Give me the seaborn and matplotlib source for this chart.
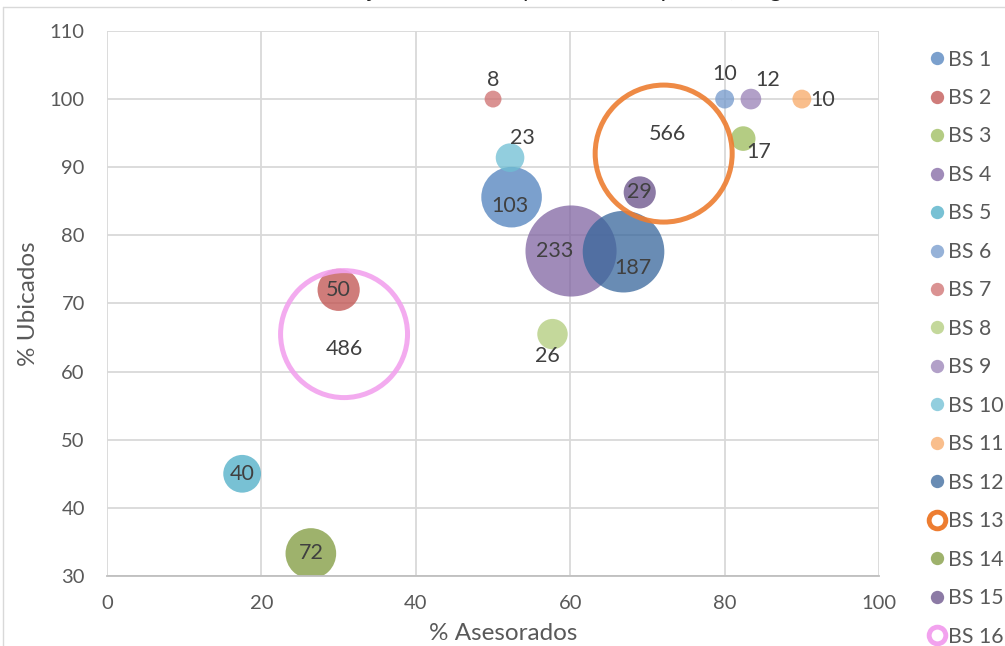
import matplotlib
matplotlib.use("Agg")
import matplotlib.pyplot as plt
from matplotlib.lines import Line2D
import seaborn as sns
import pandas as pd

# Datos
series = ["BS 1", "BS 2", "BS 3", "BS 4", "BS 5", "BS 6", "BS 7", "BS 8",
          "BS 9", "BS 10", "BS 11", "BS 12", "BS 13", "BS 14", "BS 15", "BS 16"]
asesorados = [52.4, 30.0, 82.4, 60.1, 17.5, 80.0, 50.0, 57.7,
              83.4, 52.2, 90.0, 66.9, 72.1, 26.4, 69.0, 30.7]
ubicados = [85.6, 72.0, 94.2, 77.7, 45.0, 100.0, 100.0, 65.5,
            100.0, 91.4, 100.0, 77.6, 92.0, 33.3, 86.3, 65.5]
personas = [103, 50, 17, 233, 40, 10, 8, 26, 12, 23, 10, 187, 566, 72, 29, 486]
anillos = ["BS 13", "BS 16"]

colores = {
    "BS 1": "#4F81BD", "BS 2": "#C0504D", "BS 3": "#9BBB59", "BS 4": "#8064A2",
    "BS 5": "#4BACC6", "BS 6": "#7399CB", "BS 7": "#CE6E6E", "BS 8": "#B0CB7A",
    "BS 9": "#9880B6", "BS 10": "#6EBED3", "BS 11": "#F8A866", "BS 12": "#37669B",
    "BS 13": "#ED7D31", "BS 14": "#7E983B", "BS 15": "#664E87", "BS 16": "#F2A2EE",
}

# desplazamiento de las etiquetas (en puntos)
offsets = {
    "BS 1": (-1, -6), "BS 4": (-12, 0), "BS 6": (0, 18), "BS 7": (0, 14),
    "BS 8": (-4, -16), "BS 9": (12, 14), "BS 10": (9, 14), "BS 11": (15, -1),
    "BS 12": (7, -12), "BS 13": (3, 14), "BS 16": (0, -11), "BS 3": (11, -10),
}

df = pd.DataFrame({"serie": series, "asesorados": asesorados,
                   "ubicados": ubicados, "personas": personas})
llenos = df[~df["serie"].isin(anillos)]
vacios = df[df["serie"].isin(anillos)]

sns.set_style("white")
plt.rcParams["font.family"] = ["Lato", "DejaVu Sans"]

fig = plt.figure(figsize=(10.05, 6.46), dpi=100)
ax = fig.add_axes([0.1065, 0.1084, 0.7682, 0.8437])

smax = max(personas)
sns.scatterplot(data=llenos, x="asesorados", y="ubicados", hue="serie",
                palette=colores, size="personas", size_norm=(0, smax),
                sizes=(0, 10450), alpha=0.75, linewidth=0, legend=False, ax=ax)

sns.scatterplot(data=vacios, x="asesorados", y="ubicados", size="personas",
                size_norm=(0, smax), sizes=(0, 9730), legend=False, ax=ax)
ring = ax.collections[-1]
ring.set_facecolor("none")
ring.set_edgecolor([colores[s] for s in vacios["serie"]])
ring.set_linewidth(3.6)
ring.set_alpha(0.9)

for s, x, y, n in zip(series, asesorados, ubicados, personas):
    dx, dy = offsets.get(s, (0, 0))
    ax.annotate(str(n), (x, y), xytext=(dx, dy), textcoords="offset points",
                ha="center", va="center", fontsize=15.5, color="#404040")

ax.set_xlim(0, 100)
ax.set_ylim(30, 110)
ax.set_xticks(range(0, 101, 20))
ax.set_yticks(range(30, 111, 10))
ax.grid(True, color="#D9D9D9", linewidth=1.3)
ax.set_axisbelow(True)
for side in ["top", "right", "left"]:
    ax.spines[side].set_visible(False)
ax.spines["bottom"].set_color("#BFBFBF")
ax.spines["bottom"].set_linewidth(1.3)
ax.tick_params(length=0, labelsize=14.5, labelcolor="#595959")
ax.tick_params(axis="y", pad=16)
ax.tick_params(axis="x", pad=14)

ax.set_xlabel("% Asesorados", fontsize=17.5, color="#595959", va="center")
ax.set_ylabel("% Ubicados", fontsize=17.5, color="#595959", va="center")
ax.xaxis.set_label_coords(0.513, -0.105)
ax.yaxis.set_label_coords(-0.102, 0.5)

# leyenda
handles = []
for s in series:
    if s in anillos:
        h = Line2D([], [], linestyle="none", marker="o", markersize=12,
                   markerfacecolor="white", markeredgecolor=colores[s],
                   markeredgewidth=3.5)
    else:
        h = Line2D([], [], linestyle="none", marker="o", markersize=9.6,
                   markerfacecolor=colores[s], markeredgecolor="none", alpha=0.75)
    handles.append(h)
fig.legend(handles, series, loc="upper left", bbox_to_anchor=(0.915, 0.9365),
           frameon=False, fontsize=15.3, labelcolor="#595959", handlelength=0.8,
           handletextpad=0.15, labelspacing=0.87, borderaxespad=0)

# título (cortado en la parte superior) y borde del gráfico
fig.text(0.52, 1.005, "Gráfica 1. Porcentaje de ubicados y asesorados por BS, Bogotá 2016",
         ha="center", va="baseline", fontsize=17, color="#202020")
fig.add_artist(Line2D([3 / 1005, 1], [1 - 7 / 646, 1 - 7 / 646],
                      color="#D9D9D9", linewidth=1))
fig.add_artist(Line2D([3 / 1005, 3 / 1005], [0, 1 - 7 / 646],
                      color="#D9D9D9", linewidth=1))

fig.savefig("out.png", dpi=100)
